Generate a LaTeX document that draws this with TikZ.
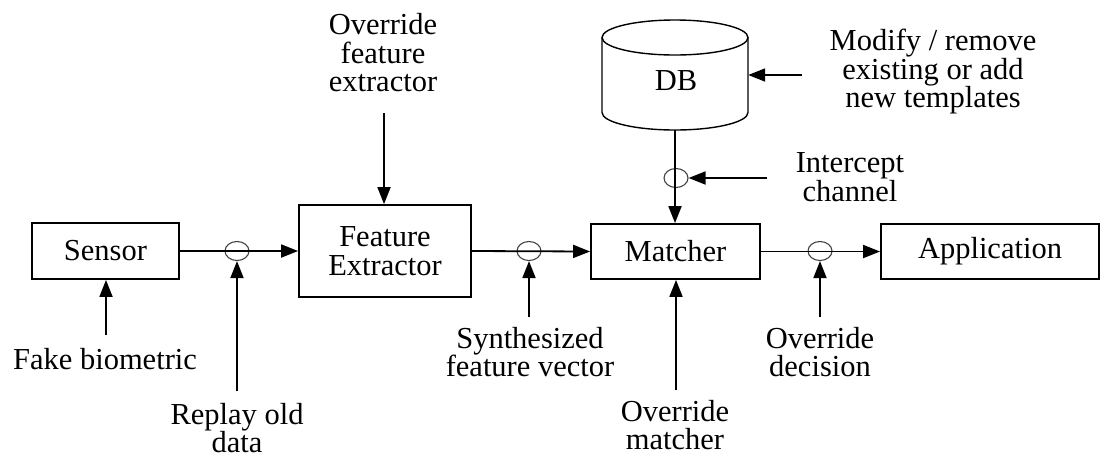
\documentclass[tikz,border=0pt]{standalone}
\usepackage{fontspec}
\setmainfont{Liberation Serif}
\usetikzlibrary{arrows.meta,shapes.geometric}
\newcommand\diagfont{\fontsize{30.5}{28.5}\selectfont}
\begin{document}
\begin{tikzpicture}[x=1pt,y=-1pt,
  blk/.style={draw, line width=1.8pt, inner sep=0pt, align=center, font=\diagfont},
  tap/.style={ellipse, draw=black!75, line width=1.1pt, minimum width=24pt, minimum height=19pt, inner sep=0pt},
  lbl/.style={align=center, font=\diagfont, inner sep=0pt},
  wire/.style={line width=1.8pt},
  arr/.style={wire, -{Triangle[length=17pt,width=13pt]}},
]
\useasboundingbox (0,0) rectangle (1102,459);

% processing blocks
\node[blk, minimum width=147pt, minimum height=56pt] (sensor)  at (105.5,251)   {Sensor};
\node[blk, minimum width=172pt, minimum height=92pt] (fe)      at (385,251)     {Feature\\Extractor};
\node[blk, minimum width=169pt, minimum height=55pt] (matcher) at (675.5,251.5) {Matcher};
\node[blk, minimum width=218pt, minimum height=55pt] (app)     at (990,251.5)   {Application};

% template database (cylinder)
\node[minimum width=146pt, minimum height=110pt, inner sep=0pt] (db) at (675,75) {};
\draw[line width=1.4pt] (602,37.5) -- (602,112.5)
  arc[start angle=180, end angle=0, x radius=73, y radius=17.5] -- (748,37.5);
\draw[line width=1.4pt] (675,37.5) ellipse [x radius=73, y radius=17.5];
\node[lbl] (dbtext) at (676,81) {DB};

% attack points on the channels
\node[tap] (c1) at (237,251) {};
\node[tap] (c2) at (529,251) {};
\node[tap] (c3) at (820,251) {};
\node[tap] (c4) at (676,178) {};

% main data flow
\draw[arr] (sensor.east) -- (fe.west);
\draw[arr] (fe.east) -- (matcher.west);
\draw[arr] (matcher.east) -- (app.west);
\draw[arr] (db.south) -- (db.south |- matcher.north);

% attack labels
\node[lbl] (ofe) at (383,53)  {Override\\feature\\extractor};
\node[lbl] (fb)  at (105,359) {Fake biometric};
\node[lbl] (rp)  at (237,428) {Replay old\\data};
\node[lbl] (sv)  at (530,352) {Synthesized\\feature vector};
\node[lbl] (om)  at (675,425) {Override\\matcher};
\node[lbl] (od)  at (820,352) {Override\\decision};
\node[lbl] (ic)  at (850,177) {Intercept\\channel};
\node[lbl] (md)  at (933,72)  {Modify / remove\\existing or add\\new templates};

% attack arrows
\coordinate (ofS) at (384,113);
\coordinate (fbS) at (106,335);
\coordinate (rpS) at (237,391);
\coordinate (svS) at (529,317);
\coordinate (omS) at (676,390);
\coordinate (odS) at (820,317);
\coordinate (icS) at (767,178);
\coordinate (mdS) at (802,75);

\draw[arr] (ofS) -- (ofS |- fe.north);
\draw[arr] (fbS) -- (fbS |- sensor.south);
\draw[arr] (rpS) -- (c1.south);
\draw[arr] (svS) -- (c2.south);
\draw[arr] (omS) -- (omS |- matcher.south);
\draw[arr] (odS) -- (c3.south);
\draw[arr] (icS) -- (c4.east);
\draw[arr] (mdS) -- (db.east);
\end{tikzpicture}
\end{document}
